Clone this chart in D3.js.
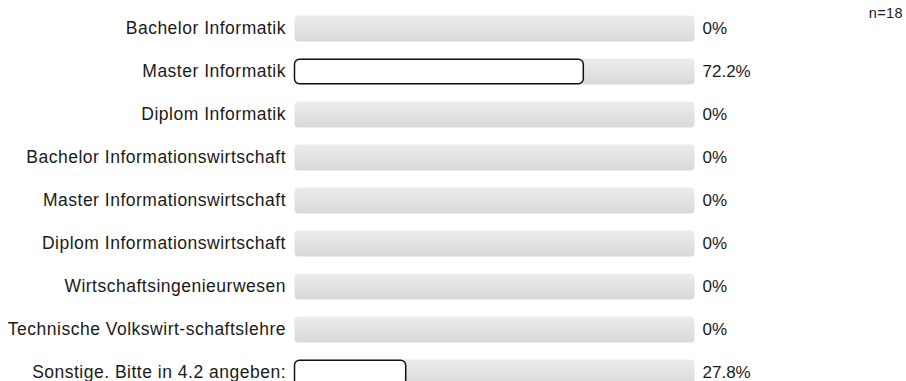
<!DOCTYPE html>
<html>
<head>
<meta charset="utf-8">
<script src="https://cdn.jsdelivr.net/npm/d3@7"></script>
<style>
  body { margin: 0; background: #fff; }
  text { font-family: "Liberation Sans", Arial, sans-serif; fill: #1a1a1a; }
</style>
</head>
<body>
<svg id="chart" width="906" height="381"></svg>
<script>
// answer options
const categories = [
  "Bachelor Informatik",
  "Master Informatik",
  "Diplom Informatik",
  "Bachelor Informationswirtschaft",
  "Master Informationswirtschaft",
  "Diplom Informationswirtschaft",
  "Wirtschaftsingenieurwesen",
  "Technische Volkswirt-schaftslehre",
  "Sonstige. Bitte in 4.2 angeben:"
];
// share of answers in percent
const percents = [0, 72.2, 0, 0, 0, 0, 0, 0, 27.8];
const valueLabels = ["0%", "72.2%", "0%", "0%", "0%", "0%", "0%", "0%", "27.8%"];
const sampleLabel = "n=18";

const left = 294.5;
const right = 694.5;

const svg = d3.select('#chart');

const defs = svg.append('defs');
const grad = defs.append('linearGradient')
  .attr('id', 'track')
  .attr('x1', 0).attr('y1', 0).attr('x2', 0).attr('y2', 1);
grad.append('stop').attr('offset', '0%').attr('stop-color', '#ececec');
grad.append('stop').attr('offset', '100%').attr('stop-color', '#d9d9d9');

const x = d3.scaleLinear().domain([0, 100]).range([left, right]);
const y = d3.scaleBand()
  .domain(categories)
  .range([15.5, 385.5])
  .paddingInner(0.395)
  .paddingOuter(0);

const rows = svg.selectAll('g.row')
  .data(categories.map((c, i) => ({ name: c, value: percents[i], label: valueLabels[i] })))
  .enter().append('g')
  .attr('class', 'row')
  .attr('transform', d => `translate(0,${y(d.name)})`);

// grey background track
rows.append('rect')
  .attr('x', x(0))
  .attr('y', 0)
  .attr('width', x(100) - x(0))
  .attr('height', y.bandwidth())
  .attr('rx', 4)
  .attr('fill', 'url(#track)');

// value bar
rows.filter(d => d.value > 0).append('rect')
  .attr('x', x(0))
  .attr('y', 0.75)
  .attr('width', d => x(d.value) - x(0))
  .attr('height', y.bandwidth() - 1.5)
  .attr('rx', 5)
  .attr('fill', '#fff')
  .attr('stroke', '#111')
  .attr('stroke-width', 1.5);

rows.append('text')
  .attr('x', 286)
  .attr('y', y.bandwidth() / 2)
  .attr('dy', '0.33em')
  .attr('text-anchor', 'end')
  .style('font-size', '17.5px')
  .style('letter-spacing', '0.5px')
  .text(d => d.name);

rows.append('text')
  .attr('x', 702.5)
  .attr('y', y.bandwidth() / 2)
  .attr('dy', '0.33em')
  .style('font-size', '17px')
  .text(d => d.label);

svg.append('text')
  .attr('x', 903)
  .attr('y', 13)
  .attr('dy', '0.35em')
  .attr('text-anchor', 'end')
  .style('font-size', '14.5px')
  .style('letter-spacing', '0.4px')
  .text(sampleLabel);
</script>
</body>
</html>
